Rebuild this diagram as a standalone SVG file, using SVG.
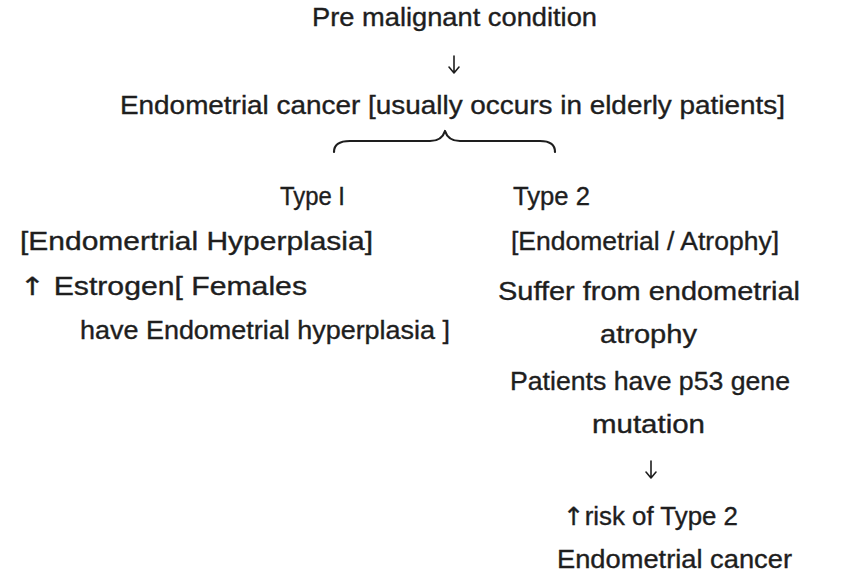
<svg xmlns="http://www.w3.org/2000/svg" width="850" height="585" viewBox="0 0 850 585">
<style>
text{font-family:"Liberation Sans","DejaVu Sans",sans-serif;font-size:25px;fill:#1e1e1e;stroke:#1e1e1e;stroke-width:0.35;}
.ar{font-family:"DejaVu Sans",sans-serif;}
.line{fill:none;stroke:#1e1e1e;stroke-width:1.6;stroke-linecap:round;stroke-linejoin:round;}
.brace{fill:none;stroke:#1e1e1e;stroke-width:2.2;stroke-linecap:round;stroke-linejoin:round;}
</style>
<rect width="850" height="585" fill="#ffffff"/>
<g id="premalignant"><text x="312" y="26" textLength="285" lengthAdjust="spacingAndGlyphs">Pre malignant condition</text></g>
<g id="connectors">
<path class="line" d="M454,56 L454,73 M449,67 L454,73 L459,67"/>
<path class="brace" d="M334,152 Q334,141 350,141 L430,141 Q442,141 445,131 Q448,141 460,141 L540,141 Q555,141 555,152"/>
<path class="line" d="M651,461 L651,478 M646,472 L651,478 L656,472"/>
</g>
<g id="endometrial-cancer"><text x="120" y="114" textLength="665" lengthAdjust="spacingAndGlyphs">Endometrial cancer  [usually occurs in elderly  patients]</text></g>
<g id="type1">
<text x="280" y="205" textLength="65" lengthAdjust="spacingAndGlyphs">Type I</text>
<text x="20" y="250" textLength="353" lengthAdjust="spacingAndGlyphs">[Endomertrial Hyperplasia]</text>
<text x="20" y="295" textLength="287" lengthAdjust="spacingAndGlyphs"><tspan class="ar">↑</tspan> Estrogen[  Females</text>
<text x="80" y="339" textLength="370" lengthAdjust="spacingAndGlyphs">have Endometrial hyperplasia ]</text>
</g>
<g id="type2">
<text x="513" y="205" textLength="77" lengthAdjust="spacingAndGlyphs">Type 2</text>
<text x="511" y="250" textLength="268" lengthAdjust="spacingAndGlyphs">[Endometrial / Atrophy]</text>
<text x="498" y="300" textLength="302" lengthAdjust="spacingAndGlyphs">Suffer from endometrial</text>
<text x="600" y="343" textLength="97" lengthAdjust="spacingAndGlyphs">atrophy</text>
<text x="510" y="390" textLength="280" lengthAdjust="spacingAndGlyphs">Patients have p53 gene</text>
<text x="592" y="433" textLength="113" lengthAdjust="spacingAndGlyphs">mutation</text>
<text x="563" y="525" textLength="175" lengthAdjust="spacingAndGlyphs"><tspan class="ar">↑</tspan>risk of Type 2</text>
<text x="557" y="568" textLength="235" lengthAdjust="spacingAndGlyphs">Endometrial cancer</text>
</g>
</svg>
